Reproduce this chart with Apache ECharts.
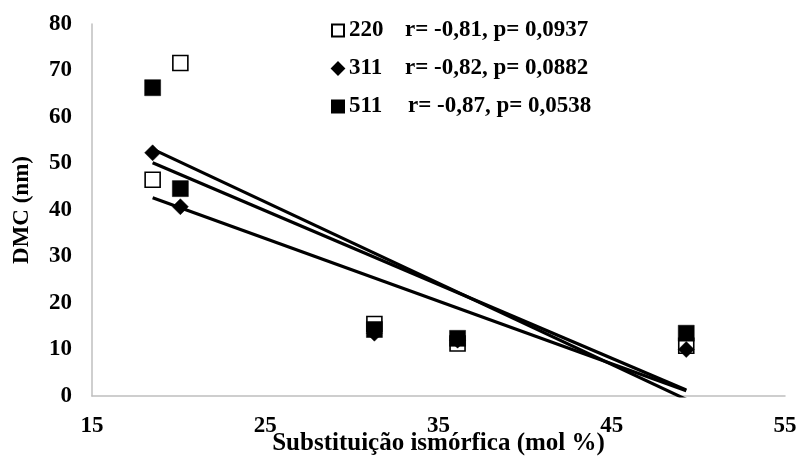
<!DOCTYPE html>
<html>
<head>
<meta charset="utf-8">
<script src="https://cdn.jsdelivr.net/npm/echarts@6/dist/echarts.min.js"></script>
<style>
  html, body { margin: 0; padding: 0; background: #fff; }
  #chart { width: 799px; height: 458px; }
</style>
</head>
<body>
<div id="chart"></div>
<script>
// Isomorphic substitution (mol %) for each sample
const substitution = [18.5, 20.1, 31.3, 36.1, 49.3];

// Crystallite size (nm) per reflection plane
const dmc220 = [46.5, 71.6, 15.5, 11.3, 10.8];
const dmc311 = [52.3, 40.7, 13.5, 12.0, 10.0];
const dmc511 = [66.3, 44.6, 14.3, 12.4, 13.5];

// Correlation statistics shown in the legend
const planeNames = ['220', '311', '511'];
const planeStats = ['r= -0,81, p= 0,0937', 'r= -0,82, p= 0,0882', 'r= -0,87, p= 0,0538'];

const FONT = '"Liberation Serif", "Times New Roman", serif';

function pairs(xs, ys) {
  return xs.map((x, i) => [x, ys[i]]);
}

// Least-squares trend line spanning the x range of the data
function trend(xs, ys) {
  const n = xs.length;
  const mx = xs.reduce((a, b) => a + b, 0) / n;
  const my = ys.reduce((a, b) => a + b, 0) / n;
  let sxy = 0, sxx = 0;
  for (let i = 0; i < n; i++) {
    sxy += (xs[i] - mx) * (ys[i] - my);
    sxx += (xs[i] - mx) * (xs[i] - mx);
  }
  const slope = sxy / sxx;
  const x0 = Math.min(...xs), x1 = Math.max(...xs);
  return [[x0, my + slope * (x0 - mx)], [x1, my + slope * (x1 - mx)]];
}

function trendSeries(ys) {
  return {
    type: 'line',
    data: trend(substitution, ys),
    showSymbol: false,
    silent: true,
    lineStyle: { color: '#000', width: 3.2 },
    clip: true
  };
}

const chart = echarts.init(document.getElementById('chart'), null, { renderer: 'canvas' });

chart.setOption({
  animation: false,
  backgroundColor: '#fff',
  grid: { left: 92, right: 14, top: 24, bottom: 62, containLabel: false, outerBoundsMode: 'none' },
  legend: {
    data: planeNames,
    orient: 'vertical',
    left: 326,
    top: 14,
    itemGap: 15,
    itemWidth: 12,
    itemHeight: 12,
    selectedMode: false,
    formatter: function (name) {
      const i = planeNames.indexOf(name);
      const style = i === 2 ? 'n3' : 'n';
      return '{' + style + '|' + name + '}{s|' + planeStats[i] + '}';
    },
    textStyle: {
      fontFamily: FONT,
      fontWeight: 'bold',
      fontSize: 23,
      color: '#000',
      rich: {
        n: { width: 56, fontFamily: FONT, fontWeight: 'bold', fontSize: 23, color: '#000' },
        n3: { width: 59, fontFamily: FONT, fontWeight: 'bold', fontSize: 23, color: '#000' },
        s: { fontFamily: FONT, fontWeight: 'bold', fontSize: 23, color: '#000' }
      }
    }
  },
  xAxis: {
    type: 'value',
    min: 15,
    max: 55,
    interval: 10,
    name: 'Substituição ismórfica (mol %)',
    nameLocation: 'middle',
    nameGap: 35,
    nameMoveOverlap: false,
    nameTextStyle: { fontFamily: FONT, fontWeight: 'bold', fontSize: 25, color: '#000' },
    axisLine: { show: true, lineStyle: { color: '#bfbfbf', width: 1.5 } },
    axisTick: { show: false },
    splitLine: { show: false },
    axisLabel: { margin: 19, fontFamily: FONT, fontWeight: 'bold', fontSize: 23, color: '#000' }
  },
  yAxis: {
    type: 'value',
    min: 0,
    max: 80,
    interval: 10,
    name: 'DMC (nm)',
    nameLocation: 'middle',
    nameRotate: 90,
    nameGap: 58,
    nameMoveOverlap: false,
    nameTextStyle: { fontFamily: FONT, fontWeight: 'bold', fontSize: 23, color: '#000' },
    axisLine: { show: true, lineStyle: { color: '#bfbfbf', width: 1.5 } },
    axisTick: { show: false },
    splitLine: { show: false },
    axisLabel: { margin: 20, fontFamily: FONT, fontWeight: 'bold', fontSize: 23, color: '#000' }
  },
  series: [
    trendSeries(dmc220),
    trendSeries(dmc311),
    trendSeries(dmc511),
    {
      name: '220',
      type: 'scatter',
      data: pairs(substitution, dmc220),
      symbol: 'rect',
      symbolSize: 15,
      itemStyle: { color: '#fff', borderColor: '#000', borderWidth: 1.6, opacity: 1 }
    },
    {
      name: '511',
      type: 'scatter',
      data: pairs(substitution, dmc511),
      symbol: 'rect',
      symbolSize: 16,
      itemStyle: { color: '#000', borderColor: '#000', borderWidth: 0.5, opacity: 1 }
    },
    {
      name: '311',
      type: 'scatter',
      data: pairs(substitution, dmc311),
      symbol: 'diamond',
      symbolSize: 16,
      itemStyle: { color: '#000', borderColor: '#000', borderWidth: 0.5, opacity: 1 }
    }
  ]
});
</script>
</body>
</html>
